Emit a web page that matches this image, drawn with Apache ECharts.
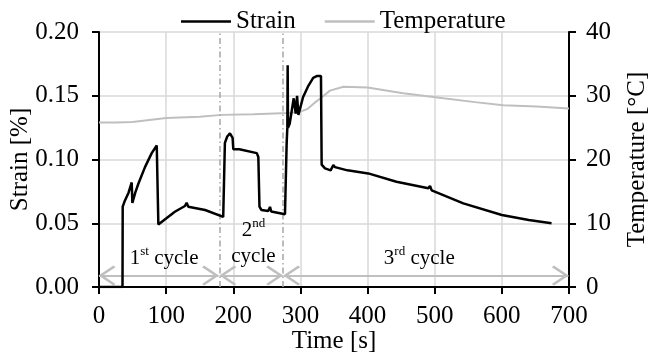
<!DOCTYPE html>
<html><head><meta charset="utf-8">
<script src="https://cdn.jsdelivr.net/npm/echarts@6/dist/echarts.min.js"></script>
<style>html,body{margin:0;padding:0;background:#fff}#c{width:648px;height:356px}</style>
</head><body><div id="c"></div>
<script>
// Strain [%] vs time [s]
const strainT = [0, 35, 35.3, 38, 44, 48.7, 49.7, 54, 58.6, 68.5, 78.5, 86, 88.4, 89.5, 98, 113, 128, 130.5, 133, 158, 185,
  186.5, 187.5, 191, 195, 197.6, 199, 200, 209, 235, 237.3, 239, 242, 252, 254.7, 256.5, 277,
  279, 279.5, 280.5, 281, 281.5, 284, 290, 293, 295, 297, 304, 312, 319, 325, 330.6, 331.6, 336.6, 345, 349, 351.5,
  370, 401, 443, 490.5, 493, 495.5, 542.6, 600, 640, 674];
const strainV = [0, 0, 0.063, 0.067, 0.074, 0.082, 0.066, 0.074, 0.081, 0.094, 0.105, 0.111, 0.049, 0.048, 0.053, 0.059, 0.0635, 0.066, 0.063, 0.0604, 0.055,
  0.055, 0.113, 0.118, 0.1205, 0.1205, 0.117, 0.108, 0.108, 0.105, 0.102, 0.063, 0.0604, 0.0596, 0.0628, 0.0592, 0.0571,
  0.057, 0.113, 0.125, 0.174, 0.125, 0.128, 0.148, 0.136, 0.150, 0.135, 0.149, 0.158, 0.164, 0.1655, 0.1655, 0.096, 0.093, 0.0915, 0.0957, 0.094,
  0.0915, 0.0891, 0.0826, 0.0774, 0.0792, 0.0758, 0.0656, 0.0565, 0.0525, 0.050];
// Temperature [°C] vs time [s]
const tempT = [0, 25, 50, 75, 100, 150, 183, 230, 282, 300, 310, 320, 330, 344, 364, 400, 453, 513, 560, 602, 652, 700];
const tempV = [25.8, 25.8, 25.9, 26.2, 26.5, 26.7, 27.0, 27.1, 27.3, 27.5, 27.9, 28.8, 29.6, 30.8, 31.4, 31.3, 30.4, 29.6, 29.0, 28.5, 28.3, 28.0];
// Cycle boundaries [s] and cycle arrows [start, end]
const cycleBounds = [180, 273.5];
const cycleArrows = [[0, 178], [180, 273.5], [275, 699]];
const arrowLevel = 0.009;
// Cycle labels: [time, strain, text]
const cycleLabels = [
  [97, 0.0227, '{n|1}{s|st}{n| cycle}'],
  [230, 0.0345, '{n|2}{s|nd}\n{n|cycle}'],
  [477, 0.0227, '{n|3}{s|rd}{n| cycle}']
];
const xTicks = {min: 0, max: 700, interval: 100};
const yTicks = {min: 0, max: 0.2, interval: 0.05};
const y2Ticks = {min: 0, max: 40, interval: 10};

const zip = (a, b) => a.map((v, i) => [v, b[i]]);
const FONT = 'Liberation Serif';
const FS = 25;
const chevron = 'path://M0,10 L10,0 L20,10 L18.4,11.4 L10,3 L1.6,11.4 Z';
const arrowEnd = (t) => ({coord: [t, arrowLevel], symbol: chevron, symbolSize: [20, 17], symbolOffset: [0, 8]});

const axisCommon = {
  nameMoveOverlap: false,
  axisLine: {show: true, lineStyle: {color: '#000', width: 2}},
  axisTick: {show: true, inside: false, length: 7, lineStyle: {color: '#000', width: 2}},
  splitLine: {show: true, lineStyle: {color: '#d9d9d9', width: 1.5}},
  nameTextStyle: {fontFamily: FONT, fontSize: FS, color: '#000'},
};

const chart = echarts.init(document.getElementById('c'), null, {renderer: 'canvas'});
chart.setOption({
  animation: false,
  backgroundColor: '#fff',
  textStyle: {fontFamily: FONT},
  grid: {left: 99, right: 79, top: 32, bottom: 69, containLabel: false, outerBoundsMode: 'none'},
  legend: {
    data: [{name: 'Strain', icon: 'rect'}, {name: 'Temperature', icon: 'rect'}],
    left: 176, top: 4, itemWidth: 50, itemHeight: 2.5, itemGap: 29,
    textStyle: {fontFamily: FONT, fontSize: FS, color: '#000'}
  },
  xAxis: Object.assign({}, axisCommon, {
    type: 'value', min: xTicks.min, max: xTicks.max, interval: xTicks.interval,
    name: 'Time [s]', nameLocation: 'middle', nameGap: 42,
    axisLabel: {fontFamily: FONT, fontSize: FS, color: '#000', margin: 17}
  }),
  yAxis: [
    Object.assign({}, axisCommon, {
      type: 'value', min: yTicks.min, max: yTicks.max, interval: yTicks.interval,
      name: 'Strain [%]', nameLocation: 'middle', nameGap: 66,
      axisLabel: {fontFamily: FONT, fontSize: FS, color: '#000', margin: 20, formatter: v => v.toFixed(2)}
    }),
    Object.assign({}, axisCommon, {
      type: 'value', position: 'right', min: y2Ticks.min, max: y2Ticks.max, interval: y2Ticks.interval,
      name: 'Temperature [°C]', nameLocation: 'middle', nameGap: 56, nameRotate: 90,
      splitLine: {show: false},
      axisLabel: {fontFamily: FONT, fontSize: FS, color: '#000', margin: 17}
    })
  ],
  series: [
    {
      name: 'Temperature', type: 'line', yAxisIndex: 1, symbol: 'none', showSymbol: false,
      data: zip(tempT, tempV), lineStyle: {color: '#bfbfbf', width: 2}, itemStyle: {color: '#bfbfbf'}, z: 2
    },
    {
      name: 'annot', type: 'line', yAxisIndex: 0, data: [], silent: true,
      markLine: {
        silent: true, symbol: 'none', label: {show: false},
        lineStyle: {color: '#a6a6a6', width: 1.5, type: [6, 3, 1.5, 3]},
        data: cycleBounds.map(t => [{coord: [t, yTicks.min]}, {coord: [t, yTicks.max]}])
      },
      markPoint: {
        silent: true, symbol: 'circle', symbolSize: 1, itemStyle: {color: 'rgba(0,0,0,0)'},
        label: {
          show: true, position: 'inside', formatter: p => p.name, color: '#000',
          rich: {
            n: {fontFamily: FONT, fontSize: 21, color: '#000', lineHeight: 26},
            s: {fontFamily: FONT, fontSize: 13, color: '#000', lineHeight: 26, verticalAlign: 'top'}
          }
        },
        data: cycleLabels.map(d => ({coord: [d[0], d[1]], name: d[2]}))
      }, z: 1
    },
    {
      name: 'arrows', type: 'line', yAxisIndex: 0, data: [], silent: true,
      markLine: {
        silent: true, symbol: [chevron, chevron],
        label: {show: false},
        lineStyle: {color: '#bfbfbf', width: 2, type: 'solid'},
        data: cycleArrows.map(a => [arrowEnd(a[0]), arrowEnd(a[1])])
      }, z: 1
    },
    {
      name: 'Strain', type: 'line', yAxisIndex: 0, symbol: 'none', showSymbol: false,
      data: zip(strainT, strainV), lineStyle: {color: '#000', width: 2.5}, itemStyle: {color: '#000'}, z: 5
    }
  ]
});
</script></body></html>
